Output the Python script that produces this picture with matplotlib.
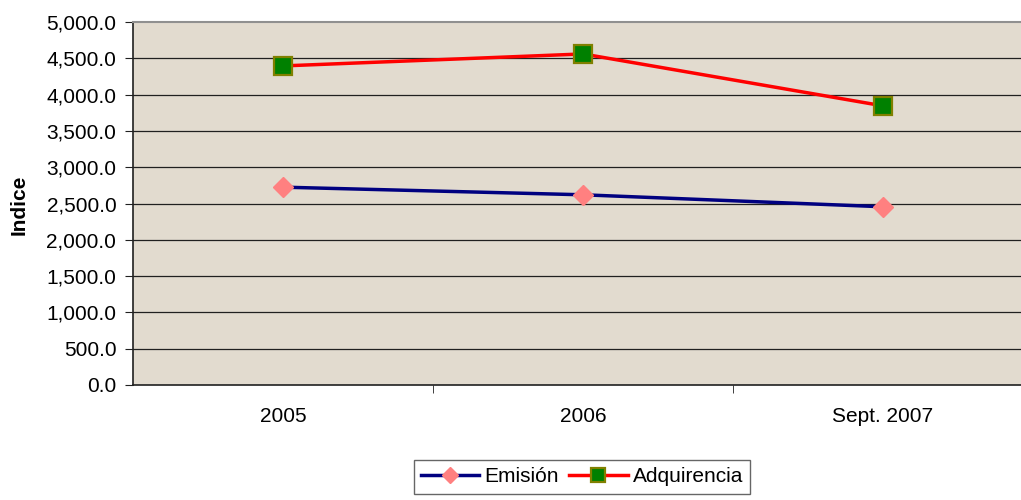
import matplotlib
matplotlib.use("Agg")
import matplotlib.pyplot as plt
from matplotlib.ticker import FuncFormatter, FixedLocator

plt.rcParams['font.family'] = ['Liberation Sans', 'DejaVu Sans']

categories = ["2005", "2006", "Sept. 2007"]
emision = [2725, 2620, 2455]
adquirencia = [4395, 4560, 3845]
y_ticks = [0, 500, 1000, 1500, 2000, 2500, 3000, 3500, 4000, 4500, 5000]

W, H = 1021, 500
fig = plt.figure(figsize=(W / 100, H / 100), dpi=100)
ax = fig.add_axes([133 / W, 1 - 385 / H, 900 / W, 363 / H])
ax.set_facecolor('#E2DBCF')

x = list(range(len(categories)))
ax.plot(x, emision, color='#000080', lw=2.5, marker='D', ms=10.5,
        mfc='#FF8080', mec='#FF8080', label='Emisión', zorder=3)
ax.plot(x, adquirencia, color='#FF0000', lw=2.5, marker='s', ms=12.5,
        mfc='#008000', mec='#808000', mew=1.6, label='Adquirencia', zorder=3)

ax.set_xlim(-0.5, len(categories) - 0.5)
ax.set_ylim(0, 5000)
ax.set_yticks(y_ticks)
ax.yaxis.set_major_formatter(FuncFormatter(lambda v, p: f"{v:,.1f}"))
for t in y_ticks[1:-1]:
    ax.axhline(t, color='#202020', lw=0.9, zorder=1)

ax.set_xticks(x)
ax.set_xticklabels(categories)
ax.xaxis.set_minor_locator(FixedLocator([0.5, 1.5]))
ax.tick_params(axis='x', which='major', length=0, pad=16, labelsize=15)
ax.tick_params(axis='x', which='minor', length=6, direction='out', color='#202020')
ax.tick_params(axis='y', length=6, direction='out', pad=6, labelsize=15, color='#202020')

for s in ['left', 'bottom']:
    ax.spines[s].set_color('#202020')
    ax.spines[s].set_linewidth(1.2)
ax.spines['top'].set_color('#909090')
ax.spines['top'].set_linewidth(1.5)
ax.spines['right'].set_visible(False)

fig.text(19 / W, 1 - 205 / H, 'Indice', rotation=90, fontsize=15, fontweight='bold',
         ha='center', va='center')

leg = fig.legend(loc='upper center', bbox_to_anchor=(582 / W, 1 - 460 / H), ncol=2,
                 fontsize=15, frameon=True, fancybox=False, handlelength=2.8,
                 handletextpad=0.25, columnspacing=0.5, borderpad=0.35,
                 borderaxespad=0, markerscale=0.75)
leg.get_frame().set_edgecolor('#404040')
leg.get_frame().set_linewidth(1.0)

fig.savefig('out.png', dpi=100)
